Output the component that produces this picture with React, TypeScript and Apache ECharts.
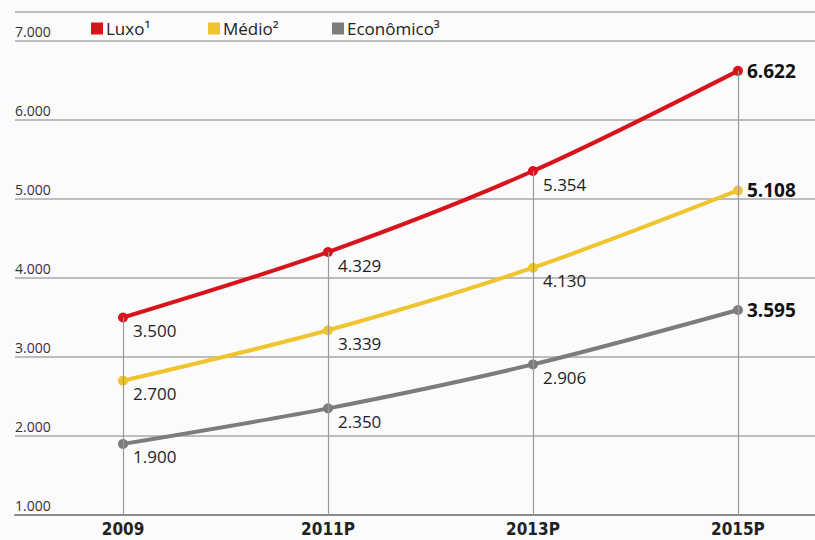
import React, { useEffect, useRef } from "react";
import * as echarts from "echarts";

const categories = ["2009", "2011P", "2013P", "2015P"];
const luxo = [3500, 4329, 5354, 6622];
const medio = [2700, 3339, 4130, 5108];
const economico = [1900, 2350, 2906, 3595];
const seriesNames = ["Luxo¹", "Médio²", "Econômico³"];
const yTicks = [1000, 2000, 3000, 4000, 5000, 6000, 7000];

const colors = ["#d7141c", "#f0c42e", "#7c7c7c"];
const FONT = "'Open Sans', 'Noto Sans', sans-serif";

function fmt(v: number) {
  return String(v).replace(/\B(?=(\d{3})+(?!\d))/g, ".");
}

export default function App() {
  const ref = useRef<HTMLDivElement>(null);
  useEffect(() => {
    if (!ref.current) return;
    const chart = echarts.init(ref.current, undefined, { renderer: "svg" });
    const datasets = [luxo, medio, economico];
    const last = categories.length - 1;
    const mkSeries = (i: number) => ({
      name: seriesNames[i],
      type: "line",
      z: 3,
      smooth: 0.3,
      data: datasets[i].map((v, k) => ({
        value: [k, v],
        label:
          k === last
            ? { position: "right", distance: 4, offset: [0, 0], fontWeight: "bold", fontSize: 19, color: "#111" }
            : undefined,
      })),
      symbol: "circle",
      symbolSize: 10,
      lineStyle: { width: 4, color: colors[i] },
      itemStyle: { color: colors[i] },
      label: {
        show: true,
        position: "right",
        distance: 5,
        offset: [0, 13],
        fontSize: 17,
        fontFamily: FONT,
        color: "#1e1e1e",
        formatter: (p: any) => fmt(p.value[1]),
      },
    });
    const option: any = {
      animation: false,
      backgroundColor: "#fbfbfb",
      legend: seriesNames.map((n, i) => ({
        data: [n],
        left: [91, 208, 332][i],
        top: 20,
        itemWidth: 12,
        itemHeight: 12,
        icon: "rect",
        padding: 0,
        itemGap: 4,
        textStyle: { fontSize: 17, fontFamily: FONT, color: "#222", padding: [0, 0, 0, -2] },
      })),
      grid: { left: 15, right: 0, top: 41, bottom: 25, containLabel: false },
      xAxis: {
        type: "value",
        min: -0.527,
        max: 3.376,
        splitLine: { show: false },
        axisTick: { show: false },
        axisLine: { show: true, lineStyle: { color: "#8a8a8a", width: 2 } },
        axisLabel: {
          customValues: categories.map((_, i) => i),
          formatter: (v: number) => categories[Math.round(v)] ?? "",
          fontFamily: "'Liberation Sans Narrow', 'DejaVu Sans Condensed', sans-serif",
          fontWeight: "bold",
          fontSize: 17,
          color: "#222",
          margin: 5,
        },
      },
      yAxis: {
        type: "value",
        min: yTicks[0],
        max: yTicks[yTicks.length - 1],
        interval: 1000,
        axisLine: { show: false },
        axisTick: { show: false },
        splitLine: { show: true, lineStyle: { color: "#a8a8a8", width: 1.5 } },
        axisLabel: {
          inside: true,
          margin: 0,
          verticalAlign: "bottom",
          align: "left",
          padding: [0, 0, 3, 0],
          fontSize: 14,
          fontFamily: FONT,
          color: "#333",
          formatter: (v: number) => fmt(v),
        },
      },
      graphic: [
        {
          type: "line",
          shape: { x1: 15, y1: 12, x2: 815, y2: 12 },
          style: { stroke: "#a8a8a8", lineWidth: 1.5 },
        },
      ],
      series: [
        {
          name: "guides",
          type: "scatter",
          z: 1,
          symbolSize: 0,
          data: luxo.map((v, k) => [k, v]),
          silent: true,
          markLine: {
            silent: true,
            symbol: ["none", "none"],
            label: { show: false },
            lineStyle: { color: "#9a9a9a", width: 1.2, type: "solid" },
            data: luxo.map((v, k) => [{ coord: [k, yTicks[0]] }, { coord: [k, v] }]),
          },
        },
        mkSeries(0),
        mkSeries(1),
        mkSeries(2),
      ],
    };
    chart.setOption(option);
    return () => chart.dispose();
  }, []);
  return (
    <div
      ref={ref}
      style={{ position: "fixed", left: 0, top: 0, width: 815, height: 540 }}
    />
  );
}
